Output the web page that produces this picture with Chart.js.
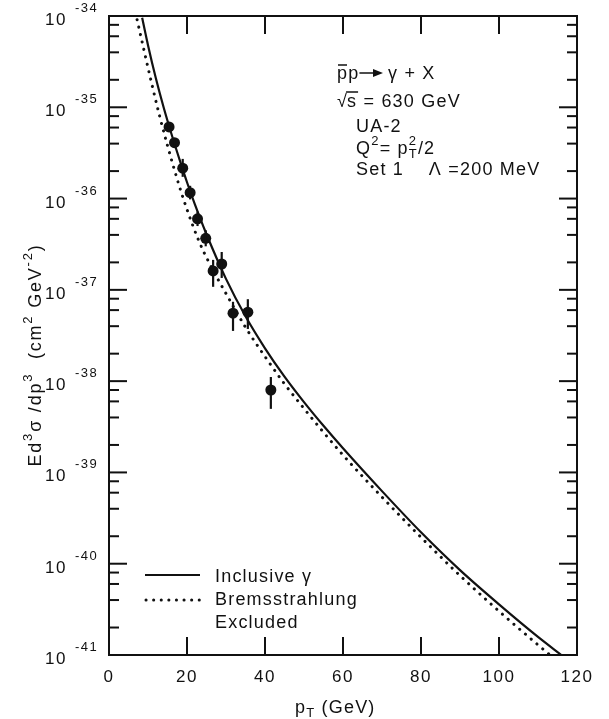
<!DOCTYPE html>
<html>
<head>
<meta charset="utf-8">
<script src="https://cdn.jsdelivr.net/npm/chart.js@4/dist/chart.umd.min.js"></script>
<style>
html, body { margin: 0; padding: 0; background: #fff; }
#wrap { width: 609px; height: 719px; position: relative; }
</style>
</head>
<body>
<div id="wrap"><canvas id="myChart"></canvas></div>
<script>
// UA-2 data points (pT in GeV, Ed3s/dp3 in cm2 GeV-2)
const pT = [15.4, 16.8, 18.9, 20.8, 22.7, 24.8, 26.7, 28.9, 31.8, 35.6, 41.5];
const sigma = [6.1e-36, 4.1e-36, 2.15e-36, 1.16e-36, 6.0e-37, 3.67e-37, 1.61e-37, 1.92e-37, 5.55e-38, 5.69e-38, 8.0e-39];
const sigmaLow = [5.5e-36, 3.7e-36, 1.73e-36, 0.98e-36, 5.0e-37, 3.0e-37, 1.08e-37, 1.35e-37, 3.55e-38, 3.73e-38, 4.97e-39];
const sigmaHigh = [6.8e-36, 4.6e-36, 2.72e-36, 1.38e-36, 7.2e-37, 4.5e-37, 2.13e-37, 2.6e-37, 7.4e-38, 7.9e-38, 1.11e-38];

// theory: inclusive gamma (solid)
const inclPt = [8.5, 10, 12, 14, 16, 18, 20, 22, 25, 30, 35, 40, 45, 50, 55, 60, 70, 80, 90, 100, 110, 116];
const inclSigma = [9.55e-35, 4.79e-35, 2.09e-35, 1.00e-35, 5.13e-36, 2.75e-36, 1.51e-36, 8.71e-37, 4.07e-37, 1.32e-37, 5.13e-38, 2.29e-38, 1.12e-38, 5.89e-39, 3.24e-39, 1.84e-39, 6.24e-40, 2.21e-40, 8.51e-41, 3.59e-41, 1.58e-41, 1.00e-41];

// theory: bremsstrahlung excluded (dotted)
const bremPt = [7.2, 9, 11, 13, 15, 18, 20, 23, 26, 30, 35, 40, 45, 50, 55, 60, 70, 80, 90, 100, 110, 114.5];
const bremSigma = [9.12e-35, 4.17e-35, 1.78e-35, 7.94e-36, 3.80e-36, 1.38e-36, 7.59e-37, 3.47e-37, 1.86e-37, 9.12e-38, 3.89e-38, 1.86e-38, 9.33e-39, 5.01e-39, 2.75e-39, 1.55e-39, 5.37e-40, 1.95e-40, 7.41e-41, 3.02e-41, 1.29e-41, 8.91e-42];

// axis ticks
const xTicks = [0, 20, 40, 60, 80, 100, 120];
const yTicks = [1e-34, 1e-35, 1e-36, 1e-37, 1e-38, 1e-39, 1e-40, 1e-41];
const yTickExp = ['-34', '-35', '-36', '-37', '-38', '-39', '-40', '-41'];

const INK = '#111';
const FONT = '"Liberation Sans", Arial, Helvetica, sans-serif';
const BIG = '18px ';
const SMALL = '13px ';

function toXY(xs, ys) {
    return xs.map((v, i) => ({ x: v, y: ys[i] }));
}

// text made of normal (n) / superscript (u) / subscript (d) / stacked (s) pieces
function rich(ctx, x, y, parts) {
    let cx = x;
    parts.forEach(([t, k]) => {
        if (k === 's') {
            const [up, dn] = t.split('|');
            ctx.font = SMALL + FONT;
            ctx.fillText(up, cx, y - 9);
            ctx.fillText(dn, cx, y + 4);
            cx += Math.max(ctx.measureText(up).width, ctx.measureText(dn).width);
            return;
        }
        ctx.font = (k === 'n' ? BIG : SMALL) + FONT;
        const dy = k === 'u' ? -9 : (k === 'd' ? 4 : 0);
        ctx.fillText(t, cx, y + dy);
        cx += ctx.measureText(t).width;
    });
    return cx;
}

function richWidth(ctx, parts) {
    let w = 0;
    parts.forEach(([t, k]) => {
        ctx.font = (k === 'n' ? BIG : SMALL) + FONT;
        if (k === 's') {
            const [up, dn] = t.split('|');
            w += Math.max(ctx.measureText(up).width, ctx.measureText(dn).width);
        } else {
            w += ctx.measureText(t).width;
        }
    });
    return w;
}

function seg(ctx, x1, y1, x2, y2) {
    ctx.beginPath();
    ctx.moveTo(x1, y1);
    ctx.lineTo(x2, y2);
    ctx.stroke();
}

const errorBars = {
    id: 'errorBars',
    afterDatasetsDraw(chart) {
        const { ctx, scales: { y } } = chart;
        const meta = chart.getDatasetMeta(2);
        ctx.save();
        ctx.strokeStyle = INK;
        ctx.lineWidth = 2.2;
        meta.data.forEach((pt, i) => {
            seg(ctx, pt.x, y.getPixelForValue(sigmaHigh[i]), pt.x, y.getPixelForValue(sigmaLow[i]));
        });
        ctx.restore();
    }
};

const frame = {
    id: 'frame',
    afterDraw(chart) {
        const { ctx, chartArea: a, scales: { x, y } } = chart;
        ctx.save();
        ctx.strokeStyle = INK;
        ctx.fillStyle = INK;
        ctx.lineWidth = 2;
        ctx.strokeRect(a.left, a.top, a.right - a.left, a.bottom - a.top);

        // inward ticks on all four sides
        xTicks.forEach(v => {
            const px = x.getPixelForValue(v);
            seg(ctx, px, a.bottom, px, a.bottom - 18);
            seg(ctx, px, a.top, px, a.top + 18);
        });
        yTicks.forEach(v => {
            const py = y.getPixelForValue(v);
            seg(ctx, a.left, py, a.left + 18, py);
            seg(ctx, a.right, py, a.right - 18, py);
            if (v < 1e-34) {
                [2, 4, 6, 8].forEach(k => {
                    const pm = y.getPixelForValue(v * k);
                    seg(ctx, a.left, pm, a.left + 10, pm);
                    seg(ctx, a.right, pm, a.right - 10, pm);
                });
            }
        });

        ctx.letterSpacing = '1.5px';
        ctx.textBaseline = 'alphabetic';

        // x tick labels
        ctx.font = '17px ' + FONT;
        ctx.textAlign = 'center';
        xTicks.forEach(v => {
            ctx.fillText(String(v), x.getPixelForValue(v), 682);
        });

        // y tick labels 10^n
        yTicks.forEach((v, i) => {
            const py = y.getPixelForValue(v);
            ctx.textAlign = 'right';
            ctx.font = '17px ' + FONT;
            ctx.fillText('10', 67, py + 9);
            ctx.textAlign = 'left';
            ctx.font = '13px ' + FONT;
            ctx.fillText(yTickExp[i], 75, py - 4);
        });

        ctx.textAlign = 'left';
        ctx.letterSpacing = '1.2px';

        // x title
        rich(ctx, 295, 713, [['p', 'n'], ['T', 'd'], [' (GeV)', 'n']]);

        // y title (rotated)
        const yParts = [['Ed', 'n'], ['3', 'u'], ['σ /dp', 'n'], ['3', 'u'], ['  (cm', 'n'], ['2', 'u'], [' GeV', 'n'], ['-2', 'u'], [')', 'n']];
        ctx.save();
        ctx.letterSpacing = '1.8px';
        const w = richWidth(ctx, yParts);
        ctx.translate(41, 355);
        ctx.rotate(-Math.PI / 2);
        rich(ctx, -w / 2, 0, yParts);
        ctx.restore();

        // annotation block
        ctx.font = BIG + FONT;
        ctx.fillText('pp', 337, 79);
        const ppW = ctx.measureText('pp').width;
        ctx.lineWidth = 1.5;
        seg(ctx, 338, 65, 347, 65);
        const ax0 = 337 + ppW;
        seg(ctx, ax0, 73, 376, 73);
        ctx.beginPath();
        ctx.moveTo(373, 69);
        ctx.lineTo(383, 73);
        ctx.lineTo(373, 77);
        ctx.closePath();
        ctx.fill();
        ctx.fillText('γ + X', 388, 79);

        ctx.fillText('√', 337, 107);
        const rootW = ctx.measureText('√').width;
        ctx.fillText('s = 630 GeV', 337 + rootW - 1, 107);
        seg(ctx, 337 + rootW - 2, 92, 337 + rootW + 10, 92);

        ctx.fillText('UA-2', 356, 132);
        rich(ctx, 356, 154, [['Q', 'n'], ['2', 'u'], ['= p', 'n'], ['2|T', 's'], ['/2', 'n']]);
        ctx.font = BIG + FONT;
        ctx.fillText('Set 1    Λ =200 MeV', 356, 175);

        // legend
        ctx.lineWidth = 2;
        seg(ctx, 145, 575, 200, 575);
        ctx.save();
        ctx.lineWidth = 3;
        ctx.lineCap = 'round';
        ctx.setLineDash([0.1, 7.5]);
        seg(ctx, 146, 600, 201, 600);
        ctx.restore();
        ctx.font = BIG + FONT;
        ctx.fillText('Inclusive γ', 215, 582);
        ctx.fillText('Bremsstrahlung', 215, 605);
        ctx.fillText('Excluded', 215, 628);

        ctx.restore();
    }
};

const ctx = document.getElementById('myChart').getContext('2d');
const myChart = new Chart(ctx, {
    type: 'line',
    data: {
        datasets: [{
            label: 'Inclusive γ',
            data: toXY(inclPt, inclSigma),
            borderColor: INK,
            borderWidth: 2.2,
            pointRadius: 0,
            cubicInterpolationMode: 'monotone',
            fill: false
        }, {
            label: 'Bremsstrahlung Excluded',
            data: toXY(bremPt, bremSigma),
            borderColor: INK,
            borderWidth: 3,
            borderDash: [0.1, 7.5],
            borderCapStyle: 'round',
            pointRadius: 0,
            cubicInterpolationMode: 'monotone',
            fill: false
        }, {
            label: 'UA-2',
            data: toXY(pT, sigma),
            showLine: false,
            pointRadius: 5.5,
            pointHoverRadius: 5.5,
            pointBackgroundColor: INK,
            pointBorderColor: INK,
            pointBorderWidth: 0
        }]
    },
    options: {
        responsive: true,
        maintainAspectRatio: false,
        animation: false,
        layout: { padding: { left: 109, right: 32, top: 16, bottom: 64 } },
        plugins: {
            legend: { display: false },
            tooltip: { enabled: false }
        },
        scales: {
            x: { type: 'linear', min: 0, max: 120, display: false },
            y: { type: 'logarithmic', min: 1e-41, max: 1e-34, display: false }
        }
    },
    plugins: [errorBars, frame]
});
</script>
</body>
</html>
